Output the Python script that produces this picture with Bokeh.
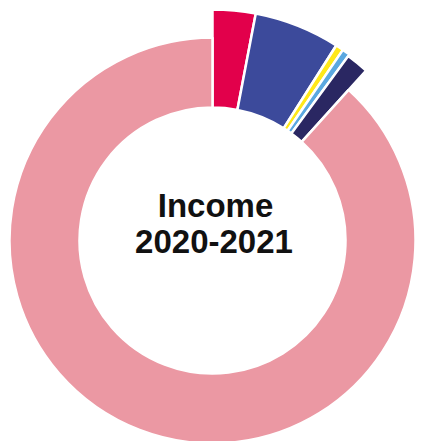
import numpy as np
from bokeh.plotting import figure
from bokeh.models import ColumnDataSource
from bokeh.core.properties import value
from bokeh.embed import file_html
from bokeh.resources import INLINE

# data
categories = ["Red", "Blue", "Yellow", "Light blue", "Navy", "Pink"]
shares = [3.0, 6.0, 0.55, 0.55, 1.6, 88.3]
title_lines = ["Income", "2020-2021"]

# styles
colors = ["#E2004B", "#3C4A9B", "#FFE81A", "#5BA8E0", "#2A2762", "#EB98A3"]
outer_r = [231, 231, 231, 231, 229, 203]

W, H = 422, 441
cx, cy = 212, 201
inner_r = 133

vals = np.array(shares, dtype=float)
frac = vals / vals.sum()
cum = np.concatenate([[0.0], np.cumsum(frac)])
start = np.pi / 2 - cum[:-1] * 2 * np.pi
end = np.pi / 2 - cum[1:] * 2 * np.pi

src = ColumnDataSource(dict(cat=categories, start=start, end=end,
                            color=colors, outer=outer_r))

p = figure(width=W, height=H, x_range=(0, W), y_range=(0, H),
           output_backend="svg", toolbar_location=None, min_border=0)
p.axis.visible = False
p.grid.visible = False
p.outline_line_color = None
p.background_fill_color = "white"
p.border_fill_color = "white"

p.annular_wedge(x=cx, y=cy, inner_radius=inner_r, outer_radius="outer",
                start_angle="start", end_angle="end", direction="clock",
                fill_color="color", line_color="white", line_width=2.5,
                source=src)

p.text(x=[cx + 3, cx + 1.5], y=[cy + 35, cy - 1], text=title_lines,
       text_font=value("Liberation Sans"), text_font_style="bold",
       text_font_size="33px", text_color="#111111",
       text_align="center", text_baseline="alphabetic")

open("out.html", "w").write(file_html(p, INLINE))
